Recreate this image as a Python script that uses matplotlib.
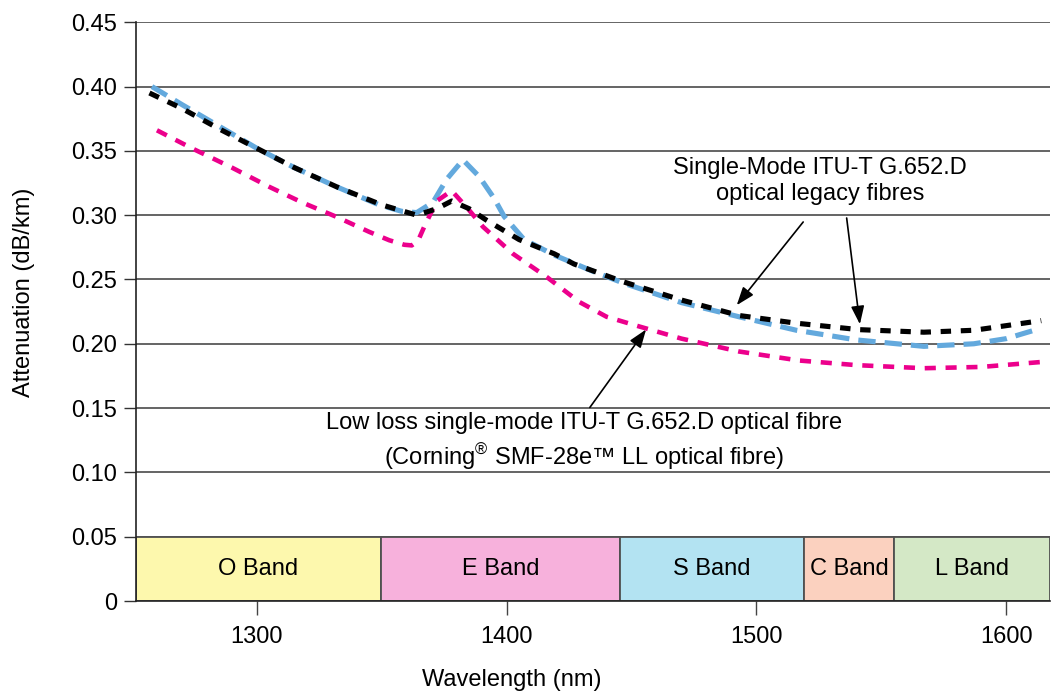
import numpy as np
import matplotlib
matplotlib.use("Agg")
import matplotlib.pyplot as plt
from matplotlib.patches import Rectangle

plt.rcParams['font.family'] = ['Liberation Sans', 'DejaVu Sans']
plt.rcParams['mathtext.fontset'] = 'custom'
plt.rcParams['mathtext.rm'] = 'Liberation Sans'
plt.rcParams['lines.scale_dashes'] = False

# legacy G.652.D fibre (black)
wl_black = [1257, 1270, 1285, 1300, 1315, 1332, 1350, 1364, 1372, 1378, 1385, 1392,
            1405, 1419, 1427, 1447, 1470, 1493, 1516, 1541, 1567, 1587, 1614]
att_black = [0.395, 0.383, 0.367, 0.352, 0.337, 0.322, 0.308, 0.300, 0.305, 0.311, 0.305, 0.296,
             0.281, 0.270, 0.262, 0.248, 0.234, 0.222, 0.216, 0.211, 0.209, 0.2105, 0.218]

# legacy G.652.D fibre (blue)
wl_blue = [1258, 1270, 1285, 1300, 1315, 1332, 1349, 1358, 1364, 1370.5, 1376, 1382.5, 1389,
           1395, 1399, 1407, 1419, 1435, 1447, 1470, 1493, 1516, 1540, 1567, 1587, 1600, 1612]
att_blue = [0.400, 0.386, 0.369, 0.352, 0.337, 0.322, 0.308, 0.303, 0.302, 0.310, 0.328, 0.343, 0.330,
            0.313, 0.299, 0.281, 0.269, 0.256, 0.247, 0.232, 0.221, 0.2105, 0.203, 0.198, 0.200, 0.204, 0.211]

# low loss fibre (pink)
wl_pink = [1260, 1274, 1290, 1305, 1318, 1332, 1345, 1353, 1359, 1362, 1364.5, 1367, 1372, 1378,
           1384.5, 1390.5, 1402.5, 1416, 1429, 1440, 1453, 1470, 1493, 1517, 1540, 1567, 1590, 1615]
att_pink = [0.366, 0.352, 0.337, 0.322, 0.310, 0.2986, 0.287, 0.2805, 0.277, 0.2765, 0.280, 0.291, 0.311, 0.319,
            0.305, 0.291, 0.270, 0.252, 0.2326, 0.221, 0.2135, 0.204, 0.194, 0.187, 0.1834, 0.181, 0.182, 0.186]

band_names = ['O Band', 'E Band', 'S Band', 'C Band', 'L Band']
band_edges = [1251.5, 1349.5, 1445.5, 1519, 1555, 1617.5]
band_colors = ['#fdf8ad', '#f7b1dc', '#b3e3f2', '#fbd1bf', '#d4e8c6']

x_ticks = [1300, 1400, 1500, 1600]
y_ticks = [0, 0.05, 0.10, 0.15, 0.20, 0.25, 0.30, 0.35, 0.40, 0.45]
y_tick_labels = ['0', '0.05', '0.10', '0.15', '0.20', '0.25', '0.30', '0.35', '0.40', '0.45']

legacy_label = 'Single-Mode ITU-T G.652.D\noptical legacy fibres'
lowloss_label = ('Low loss single-mode ITU-T G.652.D optical fibre\n'
                 '(Corning$^{®}$ SMF-28e™ LL optical fibre)')

W, H = 1051, 692
fig = plt.figure(figsize=(W / 100, H / 100), dpi=100)
ax = fig.add_axes([135.7 / W, (H - 601) / H, (1050 - 135.7) / W, (601 - 22) / H])

fs = 17

# wavelength bands
for name, x0, x1, c in zip(band_names, band_edges[:-1], band_edges[1:], band_colors):
    ax.add_patch(Rectangle((x0, 0), x1 - x0, 0.05, facecolor=c, edgecolor='#505050',
                           lw=1.3, zorder=1))
    ax.text((x0 + x1) / 2, 0.025, name, ha='center', va='center', fontsize=fs, zorder=2)

# curves
ax.plot(wl_blue, att_blue, color='#63a9dd', lw=3.7, dashes=(12.5, 6.5), zorder=3)
ax.plot(wl_pink, att_pink, color='#ec008c', lw=3.3, dashes=(8.0, 7.0), zorder=3)
ax.plot(wl_black, att_black, color='black', lw=3.7, dashes=(7.5, 7.0), zorder=4)

# annotations
ax.text(1525.4, 0.3263, legacy_label, ha='center', va='center', fontsize=fs,
        linespacing=1.25, zorder=5)
ax.text(1431, 0.1235, lowloss_label, ha='center', va='center', fontsize=fs,
        linespacing=1.3, zorder=5)
arrow = dict(arrowstyle='-|>,head_length=0.55,head_width=0.2', color='black', lw=1.2,
             mutation_scale=20, shrinkA=0, shrinkB=0)
ax.annotate('', xy=(1492.1, 0.230), xytext=(1518.7, 0.2947), arrowprops=arrow, zorder=5)
ax.annotate('', xy=(1541.4, 0.2152), xytext=(1536.1, 0.2978), arrowprops=arrow, zorder=5)
ax.annotate('', xy=(1455.8, 0.2111), xytext=(1433.3, 0.1505), arrowprops=arrow, zorder=5)

ax.set_xlim(band_edges[0], band_edges[-1])
ax.set_ylim(0, 0.4502)
ax.set_xticks(x_ticks)
ax.set_xticklabels([str(t) for t in x_ticks])
ax.set_yticks(y_ticks)
ax.set_yticklabels(y_tick_labels)
ax.tick_params(axis='x', direction='out', length=10, width=1.0, color='#444444',
               pad=8, labelsize=fs)
ax.tick_params(axis='y', direction='out', length=8.6, width=1.0, color='#333333',
               pad=5, labelsize=fs)

ax.set_axisbelow(True)
ax.yaxis.grid(True, color='#3a3a3a', lw=1.1)
ax.xaxis.grid(False)
for side in ['top', 'right']:
    ax.spines[side].set_visible(False)
for side in ['left', 'bottom']:
    ax.spines[side].set_color('#222222')
    ax.spines[side].set_linewidth(1.2)

ax.set_xlabel('Wavelength (nm)', fontsize=fs)
ax.set_ylabel('Attenuation (dB/km)', fontsize=fs)
ax.xaxis.set_label_coords((512 - 135.7) / (1050 - 135.7), -(680 - 601) / 579)
ax.xaxis.label.set_va('center')
ax.yaxis.set_label_coords((24 - 135.7) / (1050 - 135.7), (601 - 292) / 579)
ax.yaxis.label.set_va('center')

fig.savefig('out.png', dpi=100)
